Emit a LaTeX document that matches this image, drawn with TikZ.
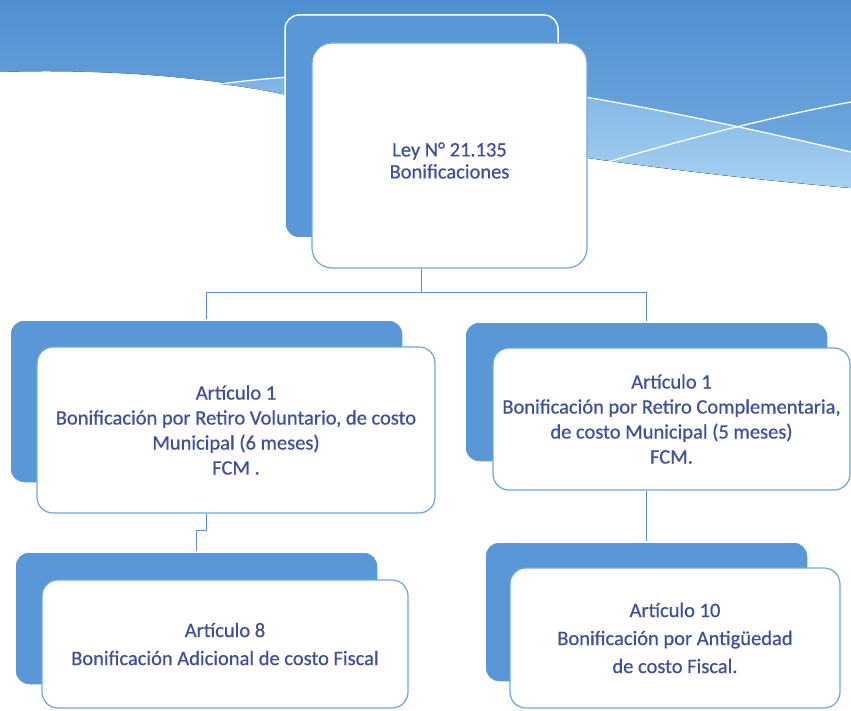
\documentclass[tikz,border=0pt]{standalone}
\usepackage{fontspec}
\setmainfont[FakeBold=0.6]{Carlito}
\usepackage{xcolor}
\usepackage{tikz}
\definecolor{bandtop}{HTML}{4F8FD1}
\definecolor{bandlow}{HTML}{76AEE2}
\definecolor{bandlight}{HTML}{A6D1F1}
\definecolor{boxblue}{HTML}{5A97D6}
\definecolor{edgeblue}{HTML}{6EA6DC}
\definecolor{lineblue}{HTML}{5B8FCF}
\definecolor{textblue}{HTML}{3F4F9C}

\begin{document}
\begin{tikzpicture}[x=1pt,y=-1pt,
	back/.style={draw=white,line width=1.5pt,fill=boxblue,rounded corners=14pt,inner sep=0pt},
	front/.style={draw=edgeblue,line width=1.2pt,fill=white,rounded corners=16pt,inner sep=0pt,
		align=center,text=textblue,font=\fontsize{20.5}{25}\selectfont},
	link/.style={draw=lineblue,line width=1.5pt}]
	\useasboundingbox (0,0) rectangle (851,711);
	%
	\fill[top color=bandtop,bottom color=bandlow] (0,0) -- (851,0) -- (851,188)
		.. controls (700,175) and (450,145) .. (330,105)
		.. controls (250,80) and (120,68) .. (0,72) -- cycle;
	\fill[top color=bandlow,bottom color=bandlight] (220,84)
		.. controls (400,60) and (560,85) .. (851,152) -- (851,188)
		.. controls (700,175) and (450,145) .. (330,105)
		.. controls (290,95) and (250,87) .. (220,84);
	\draw[white,line width=1.3pt] (220,84) .. controls (400,60) and (560,85) .. (851,152);
	\draw[white,line width=1.3pt] (605,163) .. controls (680,140) and (780,115) .. (851,102);
	%
	\node[back,minimum width=273,minimum height=223] (leyb) at (421.5,126.5) {};
	\node[front,minimum width=275,minimum height=225,rounded corners=20pt] (ley) at (449.5,155.5)
		{\rule{0pt}{24pt}Ley N° 21.135\\[-3pt]Bonificaciones};
	%
	\node[back,minimum width=393,minimum height=163] (volb) at (206.5,401.5) {};
	\node[front,minimum width=398,minimum height=166] (vol) at (236,430)
		{Artículo 1\\Bonificación por Retiro Voluntario, de costo\\Municipal (6 meses)\\FCM .};
	%
	\node[back,minimum width=363,minimum height=140] (comb) at (646.5,392) {};
	\node[front,minimum width=357,minimum height=142] (com) at (671.5,419)
		{Artículo 1\\Bonificación por Retiro Complementaria,\\de costo Municipal (5 meses)\\FCM.};
	%
	\node[back,minimum width=363,minimum height=133] (adib) at (196.5,618.5) {};
	\node[front,minimum width=366,minimum height=128] (adi) at (225,644)
		{Artículo 8\\[3pt]Bonificación Adicional de costo Fiscal};
	%
	\node[back,minimum width=323,minimum height=140] (antb) at (646.5,612) {};
	\node[front,minimum width=330,minimum height=140] (ant) at (675,638)
		{Artículo 10\\[3pt]Bonificación por Antigüedad\\[3pt]de costo Fiscal.};
	%
	\draw[link] (leyb.south |- ley.south) -- ++(0,24) -| (volb.north);
	\draw[link] (leyb.south |- ley.south) -- ++(0,24) -| (comb.north);
	\draw[link] (volb.south |- vol.south) -- ++(0,17) -| (adib.north);
	\draw[link] (comb.south |- com.south) -- (antb.north);
\end{tikzpicture}
\end{document}
